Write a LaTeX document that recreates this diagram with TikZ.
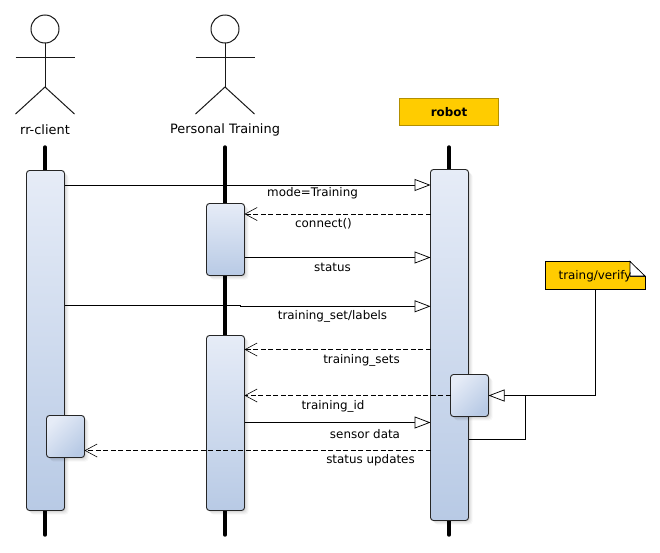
\documentclass[tikz,border=0pt]{standalone}
\usepackage{fontspec}
\setmainfont{DejaVu Sans}
\usetikzlibrary{arrows.meta,calc}
\definecolor{noteyellow}{HTML}{FFCC00}
\tikzset{
  softshadow/.style={
    preaction={fill=black,draw=none,opacity=.06,transform canvas={shift={(1pt,-1pt)}}},
    preaction={fill=black,draw=none,opacity=.05,transform canvas={shift={(2pt,-2pt)}}},
    preaction={fill=black,draw=none,opacity=.04,transform canvas={shift={(3pt,-3pt)}}},
    preaction={fill=black,draw=none,opacity=.03,transform canvas={shift={(4pt,-4pt)}}}},
  activation/.style={softshadow,draw=black!85,line width=.9pt,rounded corners=3pt,anchor=north west,
    inner sep=0pt,outer sep=0pt,top color={rgb,255:red,230;green,236;blue,247},bottom color={rgb,255:red,184;green,202;blue,229}},
  subactivation/.style={activation,shading angle=45},
  lifeline/.style={line width=3.4pt,line cap=round},
  actorline/.style={line width=1pt,draw=black!90},
  solidmsg/.style={line width=.75pt,-{Triangle[open,fill=white,length=16pt,width=12pt,line width=.75pt]}},
  replymsg/.style={line width=.75pt,dash pattern=on 5pt off 2.5pt,-{Straight Barb[length=12pt,width=13pt,line width=.6pt]}},
  plainline/.style={line width=.75pt},
  msglabel/.style={font=\fontsize{11.9}{14}\selectfont,inner sep=0pt},
  actorlabel/.style={font=\fontsize{12.9}{15}\selectfont,inner sep=0pt},
  yellowbox/.style={fill=noteyellow,draw=noteyellow!70!black,line width=.5pt,inner sep=0pt,outer sep=0pt,minimum width=99pt,minimum height=27.5pt},
  notebody/.style={fill=noteyellow,draw=black,line width=.75pt}
}
\begin{document}
\begin{tikzpicture}[x=1pt,y=-1pt]
\useasboundingbox (0,0) rectangle (660,552);
% actors
\foreach \n/\cx in {a/45,b/225}{
  \node[circle,draw=black!90,line width=1pt,fill=white,minimum size=28pt,inner sep=0pt,outer sep=0pt] (head\n) at (\cx,29) {};
  \coordinate (hip\n) at (\cx,87);
  \coordinate (ll\n) at ({\cx-29.5},114);
  \coordinate (lr\n) at ({\cx+29.5},114);
  \coordinate (al\n) at ({\cx-29.5},57);
  \coordinate (ar\n) at ({\cx+29.5},57);
  \draw[actorline] (head\n.south) -- (hip\n);
  \draw[actorline] (al\n) -- (ar\n);
  \draw[actorline] (ll\n) -- (hip\n) -- (lr\n);
}
\node[actorlabel] (lblA) at (45,129.5) {rr-client};
\node[actorlabel] (lblB) at (225,129.5) {Personal Training};
\node[yellowbox,font=\bfseries\fontsize{11.9}{14}\selectfont] (robot) at (449,111.7) {robot};
% lifelines
\coordinate (topA) at (45,147); \coordinate (botA) at (45,535);
\coordinate (topB) at (225,147); \coordinate (botB) at (225,535);
\coordinate (topC) at (449,147); \coordinate (botC) at (449,535);
\draw[lifeline] (topA) -- (botA);
\draw[lifeline] (topB) -- (botB);
\draw[lifeline] (topC) -- (botC);
% activations
\node[activation,minimum width=38pt,minimum height=340pt] (barA) at (26.5,170.5) {};
\node[activation,minimum width=38pt,minimum height=72pt] (barB1) at (206.5,203.5) {};
\node[activation,minimum width=38pt,minimum height=175pt] (barB2) at (206.5,335.5) {};
\node[activation,minimum width=38pt,minimum height=351pt] (barC) at (430.5,169.5) {};
% message levels
\coordinate (m1) at (0,185);
\coordinate (m2) at (0,214);
\coordinate (m3) at (0,257.5);
\coordinate (m4) at (0,305.5);
\coordinate (m4b) at (0,306.3);
\coordinate (jog) at (240,0);
\coordinate (m5) at (0,349.5);
\coordinate (m6) at (0,395.5);
\coordinate (m7) at (0,422.5);
\coordinate (m8) at (0,450.5);
\coordinate (m9) at (0,439);
\draw[solidmsg] (barA.east |- m1) -- (barC.west |- m1);
\draw[replymsg] (barC.west |- m2) -- (barB1.east |- m2);
\draw[solidmsg] (barB1.east |- m3) -- (barC.west |- m3);
\draw[solidmsg] (barA.east |- m4) -- (jog |- m4) -- (jog |- m4b) -- (barC.west |- m4b);
\draw[replymsg] (barC.west |- m5) -- (barB2.east |- m5);
\draw[solidmsg] (barB2.east |- m7) -- (barC.west |- m7);
% sub-activations
\node[subactivation,minimum width=38pt,minimum height=42pt] (subC) at (450.5,374.5) {};
\node[subactivation,minimum width=38pt,minimum height=42pt] (subA) at (46.5,415.5) {};
\draw[replymsg] (subC.west |- m6) -- (barB2.east |- m6);
\draw[replymsg] (barC.west |- m8) -- (subA.east |- m8);
% note
\coordinate (nNW) at (545.5,261.5);
\coordinate (nFoldT) at (630,261.5);
\coordinate (nFoldR) at (645,276);
\coordinate (nFoldC) at (630,276);
\coordinate (nSE) at (645,289);
\coordinate (nSW) at (545.5,289);
\coordinate (nDrop) at (595,289);
\draw[notebody] (nNW) -- (nFoldT) -- (nFoldC) -- (nFoldR) -- (nSE) -- (nSW) -- cycle;
\draw[line width=.75pt,fill=white] (nFoldT) -- (nFoldR) -- (nFoldC) -- cycle;
\node[msglabel] (noteText) at (595,276) {traing/verify};
% note link and self call
\coordinate (elbowR) at (nDrop |- m6);
\coordinate (elbowS) at (525,439);
\draw[line width=.75pt,-{Triangle[open,fill=white,length=16pt,width=12pt,line width=.75pt]}] (nDrop) -- (elbowR) -- (subC.east |- m6);
\draw[plainline] (barC.east |- m9) -- (elbowS) -- (elbowS |- m6);
% labels
\node[msglabel] (l1) at (312.5,193) {mode=Training};
\node[msglabel] (l2) at (323.5,224) {connect()};
\node[msglabel] (l3) at (332.5,267) {status};
\node[msglabel] (l4) at (332.5,316) {training\_set/labels};
\node[msglabel] (l5) at (361.5,360) {training\_sets};
\node[msglabel] (l6) at (333,406) {training\_id};
\node[msglabel] (l7) at (365,434.5) {sensor data};
\node[msglabel] (l8) at (370.5,460) {status updates};
\end{tikzpicture}
\end{document}
